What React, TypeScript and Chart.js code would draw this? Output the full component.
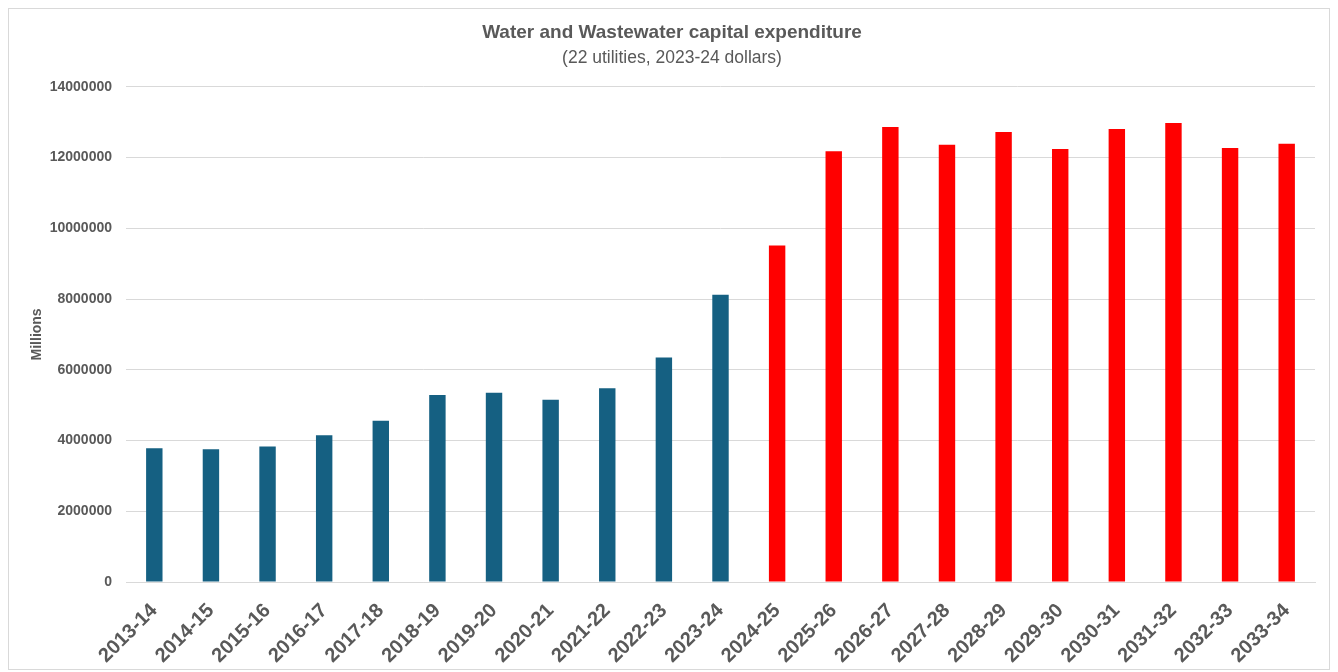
import React, { useEffect, useRef } from "react";
import { Chart, registerables } from "chart.js";

Chart.register(...registerables);

const categories = [
  "2013-14", "2014-15", "2015-16", "2016-17", "2017-18", "2018-19", "2019-20",
  "2020-21", "2021-22", "2022-23", "2023-24", "2024-25", "2025-26", "2026-27",
  "2027-28", "2028-29", "2029-30", "2030-31", "2031-32", "2032-33", "2033-34",
];
const actualCapex = [
  3780000, 3750000, 3830000, 4150000, 4560000, 5290000, 5350000, 5150000,
  5480000, 6350000, 8120000,
];
const projectedCapex = [
  9510000, 12180000, 12860000, 12360000, 12720000, 12240000, 12810000,
  12980000, 12270000, 12390000,
];
const yTicks = [0, 2000000, 4000000, 6000000, 8000000, 10000000, 12000000, 14000000];

const ACTUAL_COLOR = "#156082";
const PROJECTED_COLOR = "#FF0000";
const TEXT_COLOR = "#595959";
const GRID_COLOR = "#d9d9d9";
const FONT = "'Liberation Sans', Arial, sans-serif";

export default function App() {
  const canvasRef = useRef<HTMLCanvasElement | null>(null);

  useEffect(() => {
    if (!canvasRef.current) return;
    const values = [...actualCapex, ...projectedCapex];
    const colors = values.map((_, i) => (i < actualCapex.length ? ACTUAL_COLOR : PROJECTED_COLOR));
    const chart = new Chart(canvasRef.current, {
      type: "bar",
      data: {
        labels: categories,
        datasets: [
          {
            label: "Capital expenditure",
            data: values,
            backgroundColor: colors,
            borderWidth: 0,
            barPercentage: 0.29,
            categoryPercentage: 1,
          },
        ],
      },
      options: {
        animation: false,
        responsive: true,
        maintainAspectRatio: false,
        layout: { padding: { left: 20, right: 14, top: 6, bottom: 0 } },
        plugins: {
          legend: { display: false },
          tooltip: { enabled: false },
          title: {
            display: true,
            text: "Water and Wastewater capital expenditure",
            color: TEXT_COLOR,
            font: { family: FONT, size: 19, weight: "bold" },
            padding: { top: 6, bottom: 2 },
          },
          subtitle: {
            display: true,
            text: "(22 utilities, 2023-24 dollars)",
            color: TEXT_COLOR,
            font: { family: FONT, size: 17.5, weight: "normal" },
            padding: { top: 2, bottom: 18 },
          },
        },
        scales: {
          x: {
            grid: { display: false, drawTicks: false },
            border: { display: true, color: GRID_COLOR, width: 1 },
            ticks: {
              color: TEXT_COLOR,
              font: { family: FONT, size: 20, weight: "bold" },
              maxRotation: 45,
              minRotation: 45,
              autoSkip: false,
              padding: 17,
            },
            afterFit: (scale: any) => {
              scale.height = 87;
            },
          },
          y: {
            min: 0,
            max: 14000000,
            afterBuildTicks: (scale: any) => {
              scale.ticks = yTicks.map((v) => ({ value: v }));
            },
            grid: { color: GRID_COLOR, lineWidth: 1, drawTicks: false },
            border: { display: false },
            ticks: {
              color: TEXT_COLOR,
              font: { family: FONT, size: 14, weight: "bold" },
              padding: 14,
              callback: (v: any) => String(v),
            },
            title: {
              display: true,
              text: "Millions",
              color: TEXT_COLOR,
              font: { family: FONT, size: 14, weight: "bold" },
              padding: { top: 0, bottom: 0 },
            },
            afterFit: (scale: any) => {
              scale.width = 97;
            },
          },
        },
      },
    });
    return () => chart.destroy();
  }, []);

  return (
    <div
      style={{
        width: 1322,
        height: 662,
        border: "1px solid #d9d9d9",
        boxSizing: "border-box",
        background: "#ffffff",
      }}
    >
      <div style={{ position: "relative", width: "100%", height: "100%" }}>
        <canvas ref={canvasRef} />
      </div>
    </div>
  );
}
